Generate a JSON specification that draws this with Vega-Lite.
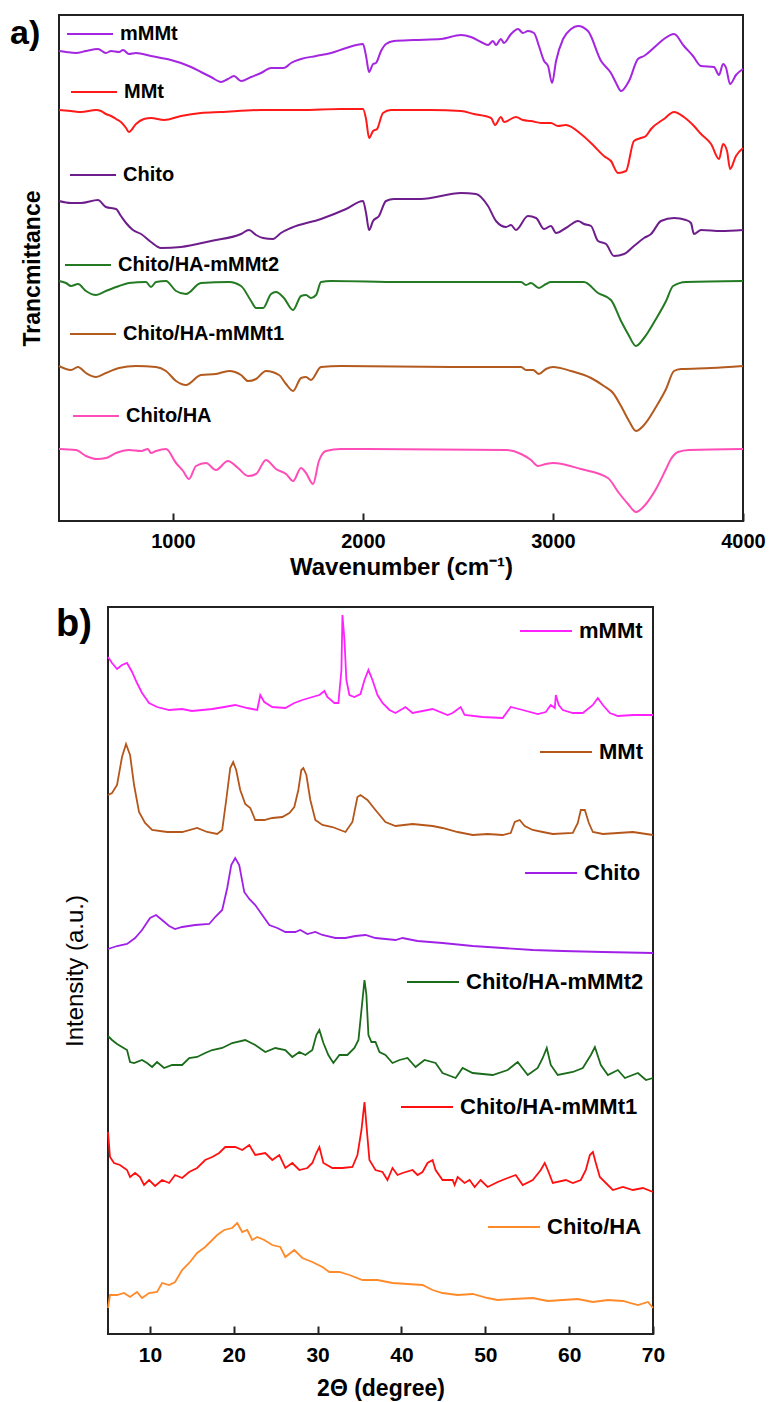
{
"$schema": "https://vega.github.io/schema/vega-lite/v6.json",
"padding": {"left": 9, "top": 9, "right": 2, "bottom": 0},
"spacing": 23,
"config": {
 "font": "Liberation Sans",
 "view": {"stroke": "#222", "strokeWidth": 2},
 "axis": {"grid": false, "labelFont": "Liberation Sans", "titleFont": "Liberation Sans", "labelColor": "black", "titleColor": "black", "tickColor": "#222"},
 "legend": {"symbolType": "stroke", "symbolStrokeWidth": 2, "labelFont": "Liberation Sans", "labelFontWeight": "bold", "labelColor": "black", "padding": 0, "labelOffset": 6, "labelLimit": 500}
},
"datasets": {
"ftir": [
{"s":"mMMt","x":400,"y":470},{"s":"mMMt","x":437,"y":469},{"s":"mMMt","x":489,"y":468},{"s":"mMMt","x":542,"y":470},{"s":"mMMt","x":605,"y":472},{"s":"mMMt","x":647,"y":468},{"s":"mMMt","x":674,"y":470},{"s":"mMMt","x":716,"y":469},{"s":"mMMt","x":737,"y":471},{"s":"mMMt","x":768,"y":467},{"s":"mMMt","x":805,"y":468},{"s":"mMMt","x":884,"y":465},{"s":"mMMt","x":937,"y":463},{"s":"mMMt","x":989,"y":461},{"s":"mMMt","x":1042,"y":458},{"s":"mMMt","x":1095,"y":454},{"s":"mMMt","x":1147,"y":449},{"s":"mMMt","x":1200,"y":444},{"s":"mMMt","x":1253,"y":439},{"s":"mMMt","x":1289,"y":442},{"s":"mMMt","x":1321,"y":445},{"s":"mMMt","x":1358,"y":440},{"s":"mMMt","x":1411,"y":444},{"s":"mMMt","x":1463,"y":448},{"s":"mMMt","x":1516,"y":453},{"s":"mMMt","x":1584,"y":453},{"s":"mMMt","x":1621,"y":458},{"s":"mMMt","x":1674,"y":462},{"s":"mMMt","x":1753,"y":465},{"s":"mMMt","x":1832,"y":468},{"s":"mMMt","x":1911,"y":473},{"s":"mMMt","x":2000,"y":477},{"s":"mMMt","x":2016,"y":465},{"s":"mMMt","x":2032,"y":449},{"s":"mMMt","x":2053,"y":457},{"s":"mMMt","x":2068,"y":458},{"s":"mMMt","x":2095,"y":470},{"s":"mMMt","x":2121,"y":477},{"s":"mMMt","x":2163,"y":480},{"s":"mMMt","x":2268,"y":481},{"s":"mMMt","x":2411,"y":482},{"s":"mMMt","x":2516,"y":486},{"s":"mMMt","x":2568,"y":484},{"s":"mMMt","x":2621,"y":479},{"s":"mMMt","x":2658,"y":476},{"s":"mMMt","x":2684,"y":480},{"s":"mMMt","x":2700,"y":476},{"s":"mMMt","x":2726,"y":482},{"s":"mMMt","x":2742,"y":478},{"s":"mMMt","x":2779,"y":487},{"s":"mMMt","x":2816,"y":492},{"s":"mMMt","x":2842,"y":488},{"s":"mMMt","x":2868,"y":490},{"s":"mMMt","x":2900,"y":488},{"s":"mMMt","x":2926,"y":475},{"s":"mMMt","x":2953,"y":460},{"s":"mMMt","x":2974,"y":455},{"s":"mMMt","x":2995,"y":438},{"s":"mMMt","x":3016,"y":460},{"s":"mMMt","x":3053,"y":482},{"s":"mMMt","x":3095,"y":492},{"s":"mMMt","x":3132,"y":495},{"s":"mMMt","x":3184,"y":490},{"s":"mMMt","x":3253,"y":460},{"s":"mMMt","x":3305,"y":448},{"s":"mMMt","x":3332,"y":438},{"s":"mMMt","x":3358,"y":430},{"s":"mMMt","x":3400,"y":440},{"s":"mMMt","x":3447,"y":462},{"s":"mMMt","x":3479,"y":465},{"s":"mMMt","x":3553,"y":477},{"s":"mMMt","x":3584,"y":482},{"s":"mMMt","x":3637,"y":487},{"s":"mMMt","x":3689,"y":475},{"s":"mMMt","x":3737,"y":465},{"s":"mMMt","x":3779,"y":455},{"s":"mMMt","x":3847,"y":454},{"s":"mMMt","x":3874,"y":446},{"s":"mMMt","x":3895,"y":457},{"s":"mMMt","x":3911,"y":453},{"s":"mMMt","x":3932,"y":437},{"s":"mMMt","x":3963,"y":446},{"s":"mMMt","x":4000,"y":452},
{"s":"MMt","x":400,"y":411},{"s":"MMt","x":463,"y":410},{"s":"MMt","x":516,"y":409},{"s":"MMt","x":595,"y":411},{"s":"MMt","x":621,"y":410},{"s":"MMt","x":647,"y":407},{"s":"MMt","x":674,"y":405},{"s":"MMt","x":700,"y":402},{"s":"MMt","x":726,"y":399},{"s":"MMt","x":753,"y":393},{"s":"MMt","x":768,"y":389},{"s":"MMt","x":805,"y":397},{"s":"MMt","x":847,"y":402},{"s":"MMt","x":884,"y":403},{"s":"MMt","x":953,"y":401},{"s":"MMt","x":1042,"y":405},{"s":"MMt","x":1147,"y":408},{"s":"MMt","x":1253,"y":409},{"s":"MMt","x":1463,"y":411},{"s":"MMt","x":1674,"y":411},{"s":"MMt","x":1884,"y":412},{"s":"MMt","x":2000,"y":412},{"s":"MMt","x":2016,"y":402},{"s":"MMt","x":2032,"y":383},{"s":"MMt","x":2053,"y":390},{"s":"MMt","x":2074,"y":392},{"s":"MMt","x":2105,"y":408},{"s":"MMt","x":2147,"y":411},{"s":"MMt","x":2358,"y":411},{"s":"MMt","x":2516,"y":410},{"s":"MMt","x":2584,"y":407},{"s":"MMt","x":2674,"y":403},{"s":"MMt","x":2695,"y":396},{"s":"MMt","x":2726,"y":404},{"s":"MMt","x":2742,"y":399},{"s":"MMt","x":2805,"y":404},{"s":"MMt","x":2842,"y":401},{"s":"MMt","x":2884,"y":400},{"s":"MMt","x":2937,"y":398},{"s":"MMt","x":2989,"y":398},{"s":"MMt","x":3026,"y":395},{"s":"MMt","x":3068,"y":396},{"s":"MMt","x":3147,"y":387},{"s":"MMt","x":3216,"y":375},{"s":"MMt","x":3268,"y":365},{"s":"MMt","x":3305,"y":360},{"s":"MMt","x":3342,"y":348},{"s":"MMt","x":3384,"y":350},{"s":"MMt","x":3426,"y":380},{"s":"MMt","x":3463,"y":383},{"s":"MMt","x":3489,"y":385},{"s":"MMt","x":3516,"y":392},{"s":"MMt","x":3584,"y":402},{"s":"MMt","x":3637,"y":409},{"s":"MMt","x":3689,"y":404},{"s":"MMt","x":3742,"y":395},{"s":"MMt","x":3779,"y":387},{"s":"MMt","x":3832,"y":377},{"s":"MMt","x":3874,"y":362},{"s":"MMt","x":3895,"y":377},{"s":"MMt","x":3916,"y":370},{"s":"MMt","x":3932,"y":352},{"s":"MMt","x":3963,"y":365},{"s":"MMt","x":4000,"y":373},
{"s":"Chito","x":400,"y":320},{"s":"Chito","x":463,"y":318},{"s":"Chito","x":516,"y":318},{"s":"Chito","x":605,"y":321},{"s":"Chito","x":647,"y":314},{"s":"Chito","x":700,"y":312},{"s":"Chito","x":726,"y":305},{"s":"Chito","x":753,"y":298},{"s":"Chito","x":789,"y":291},{"s":"Chito","x":832,"y":287},{"s":"Chito","x":884,"y":279},{"s":"Chito","x":937,"y":273},{"s":"Chito","x":1042,"y":274},{"s":"Chito","x":1200,"y":280},{"s":"Chito","x":1358,"y":287},{"s":"Chito","x":1400,"y":291},{"s":"Chito","x":1437,"y":286},{"s":"Chito","x":1474,"y":283},{"s":"Chito","x":1526,"y":282},{"s":"Chito","x":1568,"y":288},{"s":"Chito","x":1621,"y":293},{"s":"Chito","x":1779,"y":302},{"s":"Chito","x":1911,"y":312},{"s":"Chito","x":2000,"y":320},{"s":"Chito","x":2016,"y":308},{"s":"Chito","x":2032,"y":291},{"s":"Chito","x":2053,"y":300},{"s":"Chito","x":2084,"y":305},{"s":"Chito","x":2121,"y":320},{"s":"Chito","x":2163,"y":322},{"s":"Chito","x":2305,"y":322},{"s":"Chito","x":2516,"y":328},{"s":"Chito","x":2595,"y":327},{"s":"Chito","x":2658,"y":315},{"s":"Chito","x":2700,"y":300},{"s":"Chito","x":2753,"y":294},{"s":"Chito","x":2779,"y":296},{"s":"Chito","x":2805,"y":291},{"s":"Chito","x":2868,"y":305},{"s":"Chito","x":2911,"y":303},{"s":"Chito","x":2953,"y":292},{"s":"Chito","x":2989,"y":295},{"s":"Chito","x":3016,"y":288},{"s":"Chito","x":3068,"y":293},{"s":"Chito","x":3132,"y":300},{"s":"Chito","x":3163,"y":297},{"s":"Chito","x":3200,"y":295},{"s":"Chito","x":3237,"y":280},{"s":"Chito","x":3279,"y":277},{"s":"Chito","x":3321,"y":265},{"s":"Chito","x":3374,"y":267},{"s":"Chito","x":3426,"y":275},{"s":"Chito","x":3479,"y":283},{"s":"Chito","x":3516,"y":287},{"s":"Chito","x":3568,"y":300},{"s":"Chito","x":3637,"y":303},{"s":"Chito","x":3700,"y":301},{"s":"Chito","x":3726,"y":298},{"s":"Chito","x":3742,"y":287},{"s":"Chito","x":3779,"y":291},{"s":"Chito","x":3884,"y":290},{"s":"Chito","x":4000,"y":291},
{"s":"Chito/HA-mMMt2","x":400,"y":240},{"s":"Chito/HA-mMMt2","x":437,"y":238},{"s":"Chito/HA-mMMt2","x":463,"y":235},{"s":"Chito/HA-mMMt2","x":500,"y":237},{"s":"Chito/HA-mMMt2","x":542,"y":230},{"s":"Chito/HA-mMMt2","x":595,"y":226},{"s":"Chito/HA-mMMt2","x":647,"y":230},{"s":"Chito/HA-mMMt2","x":716,"y":235},{"s":"Chito/HA-mMMt2","x":768,"y":238},{"s":"Chito/HA-mMMt2","x":858,"y":239},{"s":"Chito/HA-mMMt2","x":884,"y":234},{"s":"Chito/HA-mMMt2","x":911,"y":239},{"s":"Chito/HA-mMMt2","x":963,"y":240},{"s":"Chito/HA-mMMt2","x":1016,"y":230},{"s":"Chito/HA-mMMt2","x":1068,"y":227},{"s":"Chito/HA-mMMt2","x":1147,"y":238},{"s":"Chito/HA-mMMt2","x":1295,"y":239},{"s":"Chito/HA-mMMt2","x":1358,"y":235},{"s":"Chito/HA-mMMt2","x":1411,"y":220},{"s":"Chito/HA-mMMt2","x":1437,"y":213},{"s":"Chito/HA-mMMt2","x":1474,"y":213},{"s":"Chito/HA-mMMt2","x":1516,"y":227},{"s":"Chito/HA-mMMt2","x":1542,"y":229},{"s":"Chito/HA-mMMt2","x":1584,"y":223},{"s":"Chito/HA-mMMt2","x":1632,"y":211},{"s":"Chito/HA-mMMt2","x":1674,"y":225},{"s":"Chito/HA-mMMt2","x":1700,"y":226},{"s":"Chito/HA-mMMt2","x":1726,"y":223},{"s":"Chito/HA-mMMt2","x":1753,"y":226},{"s":"Chito/HA-mMMt2","x":1779,"y":239},{"s":"Chito/HA-mMMt2","x":1832,"y":240},{"s":"Chito/HA-mMMt2","x":2200,"y":239},{"s":"Chito/HA-mMMt2","x":2832,"y":239},{"s":"Chito/HA-mMMt2","x":2858,"y":236},{"s":"Chito/HA-mMMt2","x":2884,"y":238},{"s":"Chito/HA-mMMt2","x":2926,"y":233},{"s":"Chito/HA-mMMt2","x":2963,"y":237},{"s":"Chito/HA-mMMt2","x":2989,"y":239},{"s":"Chito/HA-mMMt2","x":3163,"y":239},{"s":"Chito/HA-mMMt2","x":3237,"y":228},{"s":"Chito/HA-mMMt2","x":3305,"y":221},{"s":"Chito/HA-mMMt2","x":3358,"y":200},{"s":"Chito/HA-mMMt2","x":3395,"y":187},{"s":"Chito/HA-mMMt2","x":3437,"y":175},{"s":"Chito/HA-mMMt2","x":3479,"y":183},{"s":"Chito/HA-mMMt2","x":3542,"y":202},{"s":"Chito/HA-mMMt2","x":3595,"y":220},{"s":"Chito/HA-mMMt2","x":3632,"y":235},{"s":"Chito/HA-mMMt2","x":3700,"y":239},{"s":"Chito/HA-mMMt2","x":4000,"y":240},
{"s":"Chito/HA-mMMt1","x":400,"y":155},{"s":"Chito/HA-mMMt1","x":463,"y":151},{"s":"Chito/HA-mMMt1","x":500,"y":154},{"s":"Chito/HA-mMMt1","x":542,"y":148},{"s":"Chito/HA-mMMt1","x":595,"y":144},{"s":"Chito/HA-mMMt1","x":647,"y":148},{"s":"Chito/HA-mMMt1","x":716,"y":153},{"s":"Chito/HA-mMMt1","x":805,"y":155},{"s":"Chito/HA-mMMt1","x":911,"y":154},{"s":"Chito/HA-mMMt1","x":963,"y":150},{"s":"Chito/HA-mMMt1","x":1016,"y":140},{"s":"Chito/HA-mMMt1","x":1068,"y":136},{"s":"Chito/HA-mMMt1","x":1147,"y":146},{"s":"Chito/HA-mMMt1","x":1226,"y":147},{"s":"Chito/HA-mMMt1","x":1295,"y":150},{"s":"Chito/HA-mMMt1","x":1358,"y":146},{"s":"Chito/HA-mMMt1","x":1395,"y":140},{"s":"Chito/HA-mMMt1","x":1437,"y":142},{"s":"Chito/HA-mMMt1","x":1489,"y":150},{"s":"Chito/HA-mMMt1","x":1558,"y":146},{"s":"Chito/HA-mMMt1","x":1595,"y":137},{"s":"Chito/HA-mMMt1","x":1632,"y":130},{"s":"Chito/HA-mMMt1","x":1674,"y":143},{"s":"Chito/HA-mMMt1","x":1700,"y":144},{"s":"Chito/HA-mMMt1","x":1726,"y":141},{"s":"Chito/HA-mMMt1","x":1779,"y":154},{"s":"Chito/HA-mMMt1","x":1884,"y":155},{"s":"Chito/HA-mMMt1","x":2463,"y":154},{"s":"Chito/HA-mMMt1","x":2832,"y":154},{"s":"Chito/HA-mMMt1","x":2858,"y":151},{"s":"Chito/HA-mMMt1","x":2895,"y":151},{"s":"Chito/HA-mMMt1","x":2926,"y":147},{"s":"Chito/HA-mMMt1","x":2963,"y":152},{"s":"Chito/HA-mMMt1","x":3000,"y":154},{"s":"Chito/HA-mMMt1","x":3095,"y":150},{"s":"Chito/HA-mMMt1","x":3200,"y":143},{"s":"Chito/HA-mMMt1","x":3268,"y":135},{"s":"Chito/HA-mMMt1","x":3316,"y":128},{"s":"Chito/HA-mMMt1","x":3358,"y":115},{"s":"Chito/HA-mMMt1","x":3400,"y":100},{"s":"Chito/HA-mMMt1","x":3437,"y":90},{"s":"Chito/HA-mMMt1","x":3479,"y":96},{"s":"Chito/HA-mMMt1","x":3542,"y":114},{"s":"Chito/HA-mMMt1","x":3595,"y":132},{"s":"Chito/HA-mMMt1","x":3637,"y":150},{"s":"Chito/HA-mMMt1","x":3674,"y":152},{"s":"Chito/HA-mMMt1","x":3832,"y":153},{"s":"Chito/HA-mMMt1","x":4000,"y":155},
{"s":"Chito/HA","x":400,"y":72},{"s":"Chito/HA","x":489,"y":71},{"s":"Chito/HA","x":542,"y":65},{"s":"Chito/HA","x":600,"y":62},{"s":"Chito/HA","x":647,"y":63},{"s":"Chito/HA","x":700,"y":68},{"s":"Chito/HA","x":768,"y":71},{"s":"Chito/HA","x":832,"y":70},{"s":"Chito/HA","x":868,"y":72},{"s":"Chito/HA","x":884,"y":68},{"s":"Chito/HA","x":911,"y":70},{"s":"Chito/HA","x":963,"y":72},{"s":"Chito/HA","x":1016,"y":58},{"s":"Chito/HA","x":1053,"y":50},{"s":"Chito/HA","x":1084,"y":42},{"s":"Chito/HA","x":1121,"y":55},{"s":"Chito/HA","x":1174,"y":58},{"s":"Chito/HA","x":1226,"y":51},{"s":"Chito/HA","x":1289,"y":60},{"s":"Chito/HA","x":1342,"y":53},{"s":"Chito/HA","x":1395,"y":45},{"s":"Chito/HA","x":1437,"y":47},{"s":"Chito/HA","x":1489,"y":61},{"s":"Chito/HA","x":1542,"y":52},{"s":"Chito/HA","x":1595,"y":47},{"s":"Chito/HA","x":1632,"y":40},{"s":"Chito/HA","x":1674,"y":53},{"s":"Chito/HA","x":1700,"y":48},{"s":"Chito/HA","x":1737,"y":37},{"s":"Chito/HA","x":1768,"y":60},{"s":"Chito/HA","x":1805,"y":70},{"s":"Chito/HA","x":1884,"y":72},{"s":"Chito/HA","x":2753,"y":71},{"s":"Chito/HA","x":2832,"y":67},{"s":"Chito/HA","x":2884,"y":61},{"s":"Chito/HA","x":2921,"y":55},{"s":"Chito/HA","x":2963,"y":57},{"s":"Chito/HA","x":3000,"y":58},{"s":"Chito/HA","x":3147,"y":52},{"s":"Chito/HA","x":3289,"y":43},{"s":"Chito/HA","x":3347,"y":28},{"s":"Chito/HA","x":3395,"y":17},{"s":"Chito/HA","x":3437,"y":9},{"s":"Chito/HA","x":3489,"y":17},{"s":"Chito/HA","x":3542,"y":32},{"s":"Chito/HA","x":3595,"y":52},{"s":"Chito/HA","x":3621,"y":62},{"s":"Chito/HA","x":3658,"y":69},{"s":"Chito/HA","x":3716,"y":71},{"s":"Chito/HA","x":4000,"y":72}
],
"xrd": [
{"s":"mMMt","x":5.0,"y":677},{"s":"mMMt","x":5.48,"y":671},{"s":"mMMt","x":6.08,"y":665},{"s":"mMMt","x":6.67,"y":669},{"s":"mMMt","x":7.27,"y":671},{"s":"mMMt","x":7.87,"y":662},{"s":"mMMt","x":8.46,"y":651},{"s":"mMMt","x":9.06,"y":641},{"s":"mMMt","x":9.9,"y":631},{"s":"mMMt","x":10.85,"y":627},{"s":"mMMt","x":12.29,"y":624},{"s":"mMMt","x":13.84,"y":625},{"s":"mMMt","x":15.0,"y":623},{"s":"mMMt","x":16.23,"y":624},{"s":"mMMt","x":17.43,"y":625},{"s":"mMMt","x":18.86,"y":627},{"s":"mMMt","x":20.17,"y":629},{"s":"mMMt","x":21.61,"y":626},{"s":"mMMt","x":22.8,"y":624},{"s":"mMMt","x":23.16,"y":639},{"s":"mMMt","x":23.64,"y":632},{"s":"mMMt","x":24.59,"y":627},{"s":"mMMt","x":26.15,"y":626},{"s":"mMMt","x":27.22,"y":631},{"s":"mMMt","x":28.18,"y":634},{"s":"mMMt","x":29.37,"y":637},{"s":"mMMt","x":30.21,"y":639},{"s":"mMMt","x":30.81,"y":643},{"s":"mMMt","x":31.16,"y":637},{"s":"mMMt","x":32.0,"y":631},{"s":"mMMt","x":32.48,"y":631},{"s":"mMMt","x":32.84,"y":664},{"s":"mMMt","x":32.96,"y":719},{"s":"mMMt","x":33.2,"y":694},{"s":"mMMt","x":33.43,"y":654},{"s":"mMMt","x":33.79,"y":639},{"s":"mMMt","x":34.39,"y":637},{"s":"mMMt","x":35.11,"y":640},{"s":"mMMt","x":35.59,"y":654},{"s":"mMMt","x":36.06,"y":664},{"s":"mMMt","x":36.54,"y":654},{"s":"mMMt","x":37.14,"y":639},{"s":"mMMt","x":37.74,"y":631},{"s":"mMMt","x":38.57,"y":624},{"s":"mMMt","x":39.29,"y":621},{"s":"mMMt","x":40.48,"y":627},{"s":"mMMt","x":41.32,"y":621},{"s":"mMMt","x":43.71,"y":625},{"s":"mMMt","x":45.5,"y":619},{"s":"mMMt","x":46.1,"y":621},{"s":"mMMt","x":47.06,"y":627},{"s":"mMMt","x":47.53,"y":619},{"s":"mMMt","x":49.68,"y":617},{"s":"mMMt","x":52.07,"y":616},{"s":"mMMt","x":53.03,"y":627},{"s":"mMMt","x":54.46,"y":624},{"s":"mMMt","x":56.25,"y":620},{"s":"mMMt","x":57.21,"y":622},{"s":"mMMt","x":57.81,"y":629},{"s":"mMMt","x":58.29,"y":626},{"s":"mMMt","x":58.41,"y":639},{"s":"mMMt","x":58.76,"y":629},{"s":"mMMt","x":59.24,"y":624},{"s":"mMMt","x":60.44,"y":621},{"s":"mMMt","x":61.63,"y":621},{"s":"mMMt","x":62.83,"y":629},{"s":"mMMt","x":63.42,"y":636},{"s":"mMMt","x":64.02,"y":629},{"s":"mMMt","x":64.86,"y":621},{"s":"mMMt","x":65.81,"y":618},{"s":"mMMt","x":67.6,"y":619},{"s":"mMMt","x":70.0,"y":619},
{"s":"MMt","x":5.0,"y":539},{"s":"MMt","x":5.48,"y":541},{"s":"MMt","x":6.08,"y":549},{"s":"MMt","x":6.67,"y":577},{"s":"MMt","x":7.15,"y":590},{"s":"MMt","x":7.63,"y":579},{"s":"MMt","x":8.11,"y":549},{"s":"MMt","x":8.7,"y":522},{"s":"MMt","x":9.42,"y":511},{"s":"MMt","x":10.26,"y":504},{"s":"MMt","x":12.05,"y":502},{"s":"MMt","x":13.84,"y":502},{"s":"MMt","x":15.63,"y":506},{"s":"MMt","x":16.83,"y":502},{"s":"MMt","x":18.02,"y":500},{"s":"MMt","x":18.62,"y":504},{"s":"MMt","x":19.1,"y":534},{"s":"MMt","x":19.58,"y":566},{"s":"MMt","x":19.93,"y":572},{"s":"MMt","x":20.29,"y":564},{"s":"MMt","x":20.77,"y":544},{"s":"MMt","x":21.37,"y":530},{"s":"MMt","x":21.97,"y":526},{"s":"MMt","x":22.56,"y":514},{"s":"MMt","x":23.64,"y":514},{"s":"MMt","x":24.59,"y":516},{"s":"MMt","x":25.79,"y":517},{"s":"MMt","x":26.63,"y":521},{"s":"MMt","x":27.22,"y":527},{"s":"MMt","x":27.7,"y":544},{"s":"MMt","x":28.06,"y":564},{"s":"MMt","x":28.3,"y":566},{"s":"MMt","x":28.66,"y":559},{"s":"MMt","x":29.13,"y":534},{"s":"MMt","x":29.73,"y":514},{"s":"MMt","x":30.57,"y":509},{"s":"MMt","x":31.76,"y":507},{"s":"MMt","x":33.32,"y":502},{"s":"MMt","x":34.15,"y":512},{"s":"MMt","x":34.75,"y":537},{"s":"MMt","x":35.11,"y":539},{"s":"MMt","x":35.94,"y":534},{"s":"MMt","x":36.9,"y":524},{"s":"MMt","x":38.09,"y":512},{"s":"MMt","x":39.29,"y":508},{"s":"MMt","x":41.32,"y":510},{"s":"MMt","x":43.71,"y":508},{"s":"MMt","x":44.9,"y":506},{"s":"MMt","x":46.7,"y":502},{"s":"MMt","x":48.49,"y":499},{"s":"MMt","x":50.28,"y":500},{"s":"MMt","x":52.07,"y":499},{"s":"MMt","x":53.03,"y":501},{"s":"MMt","x":53.51,"y":512},{"s":"MMt","x":54.1,"y":514},{"s":"MMt","x":54.7,"y":508},{"s":"MMt","x":55.66,"y":504},{"s":"MMt","x":56.85,"y":502},{"s":"MMt","x":58.05,"y":500},{"s":"MMt","x":60.44,"y":501},{"s":"MMt","x":61.03,"y":511},{"s":"MMt","x":61.39,"y":524},{"s":"MMt","x":61.87,"y":524},{"s":"MMt","x":62.35,"y":511},{"s":"MMt","x":62.83,"y":502},{"s":"MMt","x":64.02,"y":500},{"s":"MMt","x":67.6,"y":502},{"s":"MMt","x":70.0,"y":499},
{"s":"Chito","x":5.0,"y":385},{"s":"Chito","x":6.08,"y":388},{"s":"Chito","x":7.27,"y":390},{"s":"Chito","x":8.23,"y":396},{"s":"Chito","x":9.06,"y":404},{"s":"Chito","x":10.02,"y":416},{"s":"Chito","x":10.73,"y":419},{"s":"Chito","x":11.45,"y":414},{"s":"Chito","x":12.29,"y":408},{"s":"Chito","x":13.0,"y":405},{"s":"Chito","x":13.84,"y":407},{"s":"Chito","x":15.39,"y":409},{"s":"Chito","x":17.07,"y":410},{"s":"Chito","x":17.78,"y":417},{"s":"Chito","x":18.62,"y":424},{"s":"Chito","x":19.22,"y":446},{"s":"Chito","x":19.7,"y":469},{"s":"Chito","x":20.17,"y":476},{"s":"Chito","x":20.65,"y":469},{"s":"Chito","x":21.25,"y":442},{"s":"Chito","x":21.85,"y":435},{"s":"Chito","x":22.56,"y":429},{"s":"Chito","x":23.4,"y":419},{"s":"Chito","x":24.24,"y":409},{"s":"Chito","x":25.19,"y":406},{"s":"Chito","x":26.15,"y":402},{"s":"Chito","x":27.34,"y":402},{"s":"Chito","x":27.94,"y":404},{"s":"Chito","x":28.78,"y":400},{"s":"Chito","x":29.73,"y":402},{"s":"Chito","x":30.57,"y":399},{"s":"Chito","x":32.12,"y":396},{"s":"Chito","x":33.32,"y":396},{"s":"Chito","x":34.51,"y":398},{"s":"Chito","x":35.71,"y":399},{"s":"Chito","x":36.9,"y":396},{"s":"Chito","x":39.29,"y":394},{"s":"Chito","x":40.13,"y":396},{"s":"Chito","x":41.92,"y":393},{"s":"Chito","x":44.9,"y":391},{"s":"Chito","x":48.49,"y":388},{"s":"Chito","x":52.07,"y":386},{"s":"Chito","x":55.66,"y":384},{"s":"Chito","x":59.24,"y":383},{"s":"Chito","x":64.02,"y":382},{"s":"Chito","x":70.0,"y":381},
{"s":"Chito/HA-mMMt2","x":5.0,"y":298},{"s":"Chito/HA-mMMt2","x":5.48,"y":294},{"s":"Chito/HA-mMMt2","x":6.08,"y":290},{"s":"Chito/HA-mMMt2","x":6.67,"y":287},{"s":"Chito/HA-mMMt2","x":7.27,"y":284},{"s":"Chito/HA-mMMt2","x":7.63,"y":272},{"s":"Chito/HA-mMMt2","x":8.11,"y":271},{"s":"Chito/HA-mMMt2","x":9.06,"y":274},{"s":"Chito/HA-mMMt2","x":9.66,"y":271},{"s":"Chito/HA-mMMt2","x":10.26,"y":267},{"s":"Chito/HA-mMMt2","x":10.85,"y":272},{"s":"Chito/HA-mMMt2","x":11.69,"y":266},{"s":"Chito/HA-mMMt2","x":12.65,"y":269},{"s":"Chito/HA-mMMt2","x":13.84,"y":269},{"s":"Chito/HA-mMMt2","x":14.68,"y":276},{"s":"Chito/HA-mMMt2","x":15.63,"y":277},{"s":"Chito/HA-mMMt2","x":16.59,"y":281},{"s":"Chito/HA-mMMt2","x":17.43,"y":284},{"s":"Chito/HA-mMMt2","x":18.62,"y":286},{"s":"Chito/HA-mMMt2","x":19.81,"y":291},{"s":"Chito/HA-mMMt2","x":21.37,"y":294},{"s":"Chito/HA-mMMt2","x":22.56,"y":289},{"s":"Chito/HA-mMMt2","x":23.76,"y":282},{"s":"Chito/HA-mMMt2","x":24.95,"y":286},{"s":"Chito/HA-mMMt2","x":26.15,"y":284},{"s":"Chito/HA-mMMt2","x":26.98,"y":277},{"s":"Chito/HA-mMMt2","x":27.82,"y":282},{"s":"Chito/HA-mMMt2","x":28.54,"y":279},{"s":"Chito/HA-mMMt2","x":29.37,"y":284},{"s":"Chito/HA-mMMt2","x":29.85,"y":299},{"s":"Chito/HA-mMMt2","x":30.21,"y":304},{"s":"Chito/HA-mMMt2","x":30.69,"y":291},{"s":"Chito/HA-mMMt2","x":31.28,"y":279},{"s":"Chito/HA-mMMt2","x":31.88,"y":271},{"s":"Chito/HA-mMMt2","x":32.6,"y":279},{"s":"Chito/HA-mMMt2","x":33.55,"y":279},{"s":"Chito/HA-mMMt2","x":34.39,"y":286},{"s":"Chito/HA-mMMt2","x":34.87,"y":294},{"s":"Chito/HA-mMMt2","x":35.23,"y":324},{"s":"Chito/HA-mMMt2","x":35.59,"y":354},{"s":"Chito/HA-mMMt2","x":35.82,"y":339},{"s":"Chito/HA-mMMt2","x":36.06,"y":299},{"s":"Chito/HA-mMMt2","x":36.42,"y":292},{"s":"Chito/HA-mMMt2","x":36.9,"y":292},{"s":"Chito/HA-mMMt2","x":37.38,"y":282},{"s":"Chito/HA-mMMt2","x":38.09,"y":279},{"s":"Chito/HA-mMMt2","x":38.93,"y":271},{"s":"Chito/HA-mMMt2","x":39.77,"y":274},{"s":"Chito/HA-mMMt2","x":40.72,"y":276},{"s":"Chito/HA-mMMt2","x":41.68,"y":267},{"s":"Chito/HA-mMMt2","x":42.75,"y":274},{"s":"Chito/HA-mMMt2","x":44.07,"y":271},{"s":"Chito/HA-mMMt2","x":44.9,"y":261},{"s":"Chito/HA-mMMt2","x":46.46,"y":256},{"s":"Chito/HA-mMMt2","x":47.29,"y":266},{"s":"Chito/HA-mMMt2","x":48.49,"y":261},{"s":"Chito/HA-mMMt2","x":50.88,"y":259},{"s":"Chito/HA-mMMt2","x":52.67,"y":264},{"s":"Chito/HA-mMMt2","x":53.86,"y":272},{"s":"Chito/HA-mMMt2","x":55.06,"y":259},{"s":"Chito/HA-mMMt2","x":56.25,"y":266},{"s":"Chito/HA-mMMt2","x":56.85,"y":276},{"s":"Chito/HA-mMMt2","x":57.33,"y":286},{"s":"Chito/HA-mMMt2","x":57.81,"y":269},{"s":"Chito/HA-mMMt2","x":58.64,"y":259},{"s":"Chito/HA-mMMt2","x":60.44,"y":262},{"s":"Chito/HA-mMMt2","x":61.63,"y":266},{"s":"Chito/HA-mMMt2","x":62.59,"y":279},{"s":"Chito/HA-mMMt2","x":63.07,"y":287},{"s":"Chito/HA-mMMt2","x":63.78,"y":269},{"s":"Chito/HA-mMMt2","x":64.62,"y":259},{"s":"Chito/HA-mMMt2","x":65.81,"y":264},{"s":"Chito/HA-mMMt2","x":66.65,"y":256},{"s":"Chito/HA-mMMt2","x":68.2,"y":261},{"s":"Chito/HA-mMMt2","x":69.16,"y":254},{"s":"Chito/HA-mMMt2","x":70.0,"y":256},
{"s":"Chito/HA-mMMt1","x":5.0,"y":202},{"s":"Chito/HA-mMMt1","x":5.24,"y":177},{"s":"Chito/HA-mMMt1","x":5.72,"y":171},{"s":"Chito/HA-mMMt1","x":6.43,"y":169},{"s":"Chito/HA-mMMt1","x":7.27,"y":164},{"s":"Chito/HA-mMMt1","x":7.63,"y":157},{"s":"Chito/HA-mMMt1","x":8.23,"y":161},{"s":"Chito/HA-mMMt1","x":8.82,"y":157},{"s":"Chito/HA-mMMt1","x":9.3,"y":149},{"s":"Chito/HA-mMMt1","x":9.9,"y":154},{"s":"Chito/HA-mMMt1","x":10.62,"y":148},{"s":"Chito/HA-mMMt1","x":11.45,"y":154},{"s":"Chito/HA-mMMt1","x":12.29,"y":151},{"s":"Chito/HA-mMMt1","x":13.0,"y":159},{"s":"Chito/HA-mMMt1","x":13.84,"y":156},{"s":"Chito/HA-mMMt1","x":14.68,"y":162},{"s":"Chito/HA-mMMt1","x":15.63,"y":166},{"s":"Chito/HA-mMMt1","x":16.59,"y":174},{"s":"Chito/HA-mMMt1","x":17.43,"y":177},{"s":"Chito/HA-mMMt1","x":18.26,"y":181},{"s":"Chito/HA-mMMt1","x":18.98,"y":187},{"s":"Chito/HA-mMMt1","x":20.17,"y":187},{"s":"Chito/HA-mMMt1","x":21.01,"y":184},{"s":"Chito/HA-mMMt1","x":21.85,"y":189},{"s":"Chito/HA-mMMt1","x":22.56,"y":179},{"s":"Chito/HA-mMMt1","x":23.76,"y":181},{"s":"Chito/HA-mMMt1","x":24.59,"y":174},{"s":"Chito/HA-mMMt1","x":25.43,"y":179},{"s":"Chito/HA-mMMt1","x":26.15,"y":166},{"s":"Chito/HA-mMMt1","x":26.98,"y":171},{"s":"Chito/HA-mMMt1","x":27.82,"y":164},{"s":"Chito/HA-mMMt1","x":28.78,"y":166},{"s":"Chito/HA-mMMt1","x":29.37,"y":171},{"s":"Chito/HA-mMMt1","x":29.85,"y":181},{"s":"Chito/HA-mMMt1","x":30.21,"y":187},{"s":"Chito/HA-mMMt1","x":30.69,"y":171},{"s":"Chito/HA-mMMt1","x":31.76,"y":166},{"s":"Chito/HA-mMMt1","x":32.96,"y":166},{"s":"Chito/HA-mMMt1","x":34.15,"y":167},{"s":"Chito/HA-mMMt1","x":34.75,"y":179},{"s":"Chito/HA-mMMt1","x":35.23,"y":204},{"s":"Chito/HA-mMMt1","x":35.59,"y":232},{"s":"Chito/HA-mMMt1","x":35.82,"y":209},{"s":"Chito/HA-mMMt1","x":36.18,"y":174},{"s":"Chito/HA-mMMt1","x":36.9,"y":164},{"s":"Chito/HA-mMMt1","x":37.74,"y":162},{"s":"Chito/HA-mMMt1","x":38.33,"y":154},{"s":"Chito/HA-mMMt1","x":38.93,"y":166},{"s":"Chito/HA-mMMt1","x":39.53,"y":159},{"s":"Chito/HA-mMMt1","x":40.13,"y":161},{"s":"Chito/HA-mMMt1","x":41.32,"y":164},{"s":"Chito/HA-mMMt1","x":41.92,"y":159},{"s":"Chito/HA-mMMt1","x":42.51,"y":162},{"s":"Chito/HA-mMMt1","x":43.11,"y":171},{"s":"Chito/HA-mMMt1","x":43.71,"y":174},{"s":"Chito/HA-mMMt1","x":44.07,"y":164},{"s":"Chito/HA-mMMt1","x":44.9,"y":154},{"s":"Chito/HA-mMMt1","x":46.1,"y":154},{"s":"Chito/HA-mMMt1","x":46.34,"y":149},{"s":"Chito/HA-mMMt1","x":46.7,"y":157},{"s":"Chito/HA-mMMt1","x":47.53,"y":151},{"s":"Chito/HA-mMMt1","x":48.13,"y":154},{"s":"Chito/HA-mMMt1","x":48.73,"y":147},{"s":"Chito/HA-mMMt1","x":49.44,"y":154},{"s":"Chito/HA-mMMt1","x":50.28,"y":147},{"s":"Chito/HA-mMMt1","x":51.48,"y":152},{"s":"Chito/HA-mMMt1","x":52.67,"y":156},{"s":"Chito/HA-mMMt1","x":53.63,"y":159},{"s":"Chito/HA-mMMt1","x":54.46,"y":149},{"s":"Chito/HA-mMMt1","x":55.66,"y":154},{"s":"Chito/HA-mMMt1","x":56.61,"y":164},{"s":"Chito/HA-mMMt1","x":57.09,"y":171},{"s":"Chito/HA-mMMt1","x":57.45,"y":164},{"s":"Chito/HA-mMMt1","x":58.05,"y":151},{"s":"Chito/HA-mMMt1","x":59.6,"y":154},{"s":"Chito/HA-mMMt1","x":60.44,"y":151},{"s":"Chito/HA-mMMt1","x":61.39,"y":154},{"s":"Chito/HA-mMMt1","x":61.99,"y":164},{"s":"Chito/HA-mMMt1","x":62.47,"y":179},{"s":"Chito/HA-mMMt1","x":62.83,"y":182},{"s":"Chito/HA-mMMt1","x":63.18,"y":171},{"s":"Chito/HA-mMMt1","x":63.66,"y":157},{"s":"Chito/HA-mMMt1","x":64.38,"y":151},{"s":"Chito/HA-mMMt1","x":65.21,"y":144},{"s":"Chito/HA-mMMt1","x":66.41,"y":147},{"s":"Chito/HA-mMMt1","x":67.6,"y":144},{"s":"Chito/HA-mMMt1","x":68.8,"y":146},{"s":"Chito/HA-mMMt1","x":70.0,"y":142},
{"s":"Chito/HA","x":5.0,"y":26},{"s":"Chito/HA","x":5.24,"y":39},{"s":"Chito/HA","x":6.08,"y":39},{"s":"Chito/HA","x":6.91,"y":41},{"s":"Chito/HA","x":7.63,"y":37},{"s":"Chito/HA","x":8.46,"y":42},{"s":"Chito/HA","x":9.06,"y":36},{"s":"Chito/HA","x":9.9,"y":41},{"s":"Chito/HA","x":10.85,"y":42},{"s":"Chito/HA","x":11.45,"y":51},{"s":"Chito/HA","x":12.29,"y":49},{"s":"Chito/HA","x":13.0,"y":52},{"s":"Chito/HA","x":13.84,"y":64},{"s":"Chito/HA","x":14.68,"y":71},{"s":"Chito/HA","x":15.63,"y":81},{"s":"Chito/HA","x":16.59,"y":87},{"s":"Chito/HA","x":17.43,"y":94},{"s":"Chito/HA","x":18.02,"y":99},{"s":"Chito/HA","x":18.86,"y":104},{"s":"Chito/HA","x":19.81,"y":106},{"s":"Chito/HA","x":20.41,"y":111},{"s":"Chito/HA","x":21.01,"y":102},{"s":"Chito/HA","x":21.61,"y":104},{"s":"Chito/HA","x":22.2,"y":94},{"s":"Chito/HA","x":22.8,"y":97},{"s":"Chito/HA","x":23.64,"y":94},{"s":"Chito/HA","x":24.59,"y":89},{"s":"Chito/HA","x":25.55,"y":87},{"s":"Chito/HA","x":26.15,"y":77},{"s":"Chito/HA","x":27.22,"y":84},{"s":"Chito/HA","x":28.18,"y":76},{"s":"Chito/HA","x":29.37,"y":72},{"s":"Chito/HA","x":30.57,"y":67},{"s":"Chito/HA","x":31.4,"y":62},{"s":"Chito/HA","x":32.6,"y":62},{"s":"Chito/HA","x":33.79,"y":59},{"s":"Chito/HA","x":35.35,"y":54},{"s":"Chito/HA","x":37.14,"y":54},{"s":"Chito/HA","x":38.93,"y":51},{"s":"Chito/HA","x":40.72,"y":50},{"s":"Chito/HA","x":42.51,"y":49},{"s":"Chito/HA","x":43.71,"y":44},{"s":"Chito/HA","x":44.9,"y":41},{"s":"Chito/HA","x":46.7,"y":39},{"s":"Chito/HA","x":48.49,"y":40},{"s":"Chito/HA","x":50.28,"y":36},{"s":"Chito/HA","x":51.48,"y":34},{"s":"Chito/HA","x":53.27,"y":35},{"s":"Chito/HA","x":55.66,"y":36},{"s":"Chito/HA","x":57.45,"y":33},{"s":"Chito/HA","x":59.24,"y":34},{"s":"Chito/HA","x":61.03,"y":35},{"s":"Chito/HA","x":62.83,"y":32},{"s":"Chito/HA","x":64.62,"y":34},{"s":"Chito/HA","x":66.41,"y":33},{"s":"Chito/HA","x":68.2,"y":29},{"s":"Chito/HA","x":69.4,"y":32},{"s":"Chito/HA","x":70.0,"y":26}
]
},
"vconcat": [
{
 "width": 684, "height": 506,
 "title": {"text": "a)", "anchor": "start", "frame": "group", "orient": "top", "fontSize": 34, "fontWeight": "bold", "color": "black", "offset": 0, "baseline": "top", "dx": -49, "dy": 41},
 "data": {"name": "ftir"},
 "encoding": {
  "x": {"field": "x", "type": "quantitative", "scale": {"domain": [400, 4000], "nice": false, "zero": false},
   "axis": {"title": "Wavenumber (cm⁻¹)", "values": [1000, 2000, 3000, 4000], "format": "d", "labelFlush": false, "tickSize": -8, "tickWidth": 2, "domain": false, "labelFontSize": 20, "labelFontWeight": "bold", "labelPadding": 18, "titleFontSize": 24, "titleFontWeight": "bold", "titlePadding": 4}},
  "y": {"field": "y", "type": "quantitative", "scale": {"domain": [0, 506], "nice": false, "zero": false},
   "axis": {"title": "Trancmittance", "labels": false, "ticks": false, "domain": false, "titleFontSize": 23, "titleFontWeight": "bold", "titlePadding": 15}}
 },
 "layer": [
  {"transform": [{"filter": {"field": "s", "equal": "mMMt"}}], "mark": {"type": "line", "strokeWidth": 2, "interpolate": "monotone"},
   "encoding": {"color": {"field": "s", "type": "nominal", "scale": {"domain": ["mMMt"], "range": ["#A526E0"]}, "legend": {"title": null, "orient": "none", "legendX": 7, "legendY": -5, "symbolSize": 2116, "labelFontSize": 20}}}},
  {"transform": [{"filter": {"field": "s", "equal": "MMt"}}], "mark": {"type": "line", "strokeWidth": 2, "interpolate": "monotone"},
   "encoding": {"color": {"field": "s", "type": "nominal", "scale": {"domain": ["MMt"], "range": ["#FF1A1A"]}, "legend": {"title": null, "orient": "none", "legendX": 11, "legendY": 53, "symbolSize": 2116, "labelFontSize": 20}}}},
  {"transform": [{"filter": {"field": "s", "equal": "Chito"}}], "mark": {"type": "line", "strokeWidth": 2, "interpolate": "monotone"},
   "encoding": {"color": {"field": "s", "type": "nominal", "scale": {"domain": ["Chito"], "range": ["#6E1E8C"]}, "legend": {"title": null, "orient": "none", "legendX": 10, "legendY": 136, "symbolSize": 2116, "labelFontSize": 20}}}},
  {"transform": [{"filter": {"field": "s", "equal": "Chito/HA-mMMt2"}}], "mark": {"type": "line", "strokeWidth": 2, "interpolate": "monotone"},
   "encoding": {"color": {"field": "s", "type": "nominal", "scale": {"domain": ["Chito/HA-mMMt2"], "range": ["#237A23"]}, "legend": {"title": null, "orient": "none", "legendX": 5, "legendY": 226, "symbolSize": 2116, "labelFontSize": 20}}}},
  {"transform": [{"filter": {"field": "s", "equal": "Chito/HA-mMMt1"}}], "mark": {"type": "line", "strokeWidth": 2, "interpolate": "monotone"},
   "encoding": {"color": {"field": "s", "type": "nominal", "scale": {"domain": ["Chito/HA-mMMt1"], "range": ["#B35A1F"]}, "legend": {"title": null, "orient": "none", "legendX": 10, "legendY": 295, "symbolSize": 2116, "labelFontSize": 20}}}},
  {"transform": [{"filter": {"field": "s", "equal": "Chito/HA"}}], "mark": {"type": "line", "strokeWidth": 2, "interpolate": "monotone"},
   "encoding": {"color": {"field": "s", "type": "nominal", "scale": {"domain": ["Chito/HA"], "range": ["#FF4DB8"]}, "legend": {"title": null, "orient": "none", "legendX": 13, "legendY": 377, "symbolSize": 2116, "labelFontSize": 20}}}}
 ],
 "resolve": {"scale": {"color": "independent"}, "legend": {"color": "independent"}}
},
{
 "spacing": -5,
 "hconcat": [
 {"width": 1, "height": 1, "data": {"values": []}, "mark": "point", "view": {"stroke": null}},
 {
  "width": 545, "height": 727,
  "title": {"text": "b)", "anchor": "start", "frame": "group", "orient": "top", "fontSize": 38, "fontWeight": "bold", "color": "black", "offset": 0, "baseline": "top", "dx": -52, "dy": 40},
  "data": {"name": "xrd"},
  "encoding": {
   "x": {"field": "x", "type": "quantitative", "scale": {"domain": [5, 70], "nice": false, "zero": false},
    "axis": {"title": "2Θ (degree)", "values": [10, 20, 30, 40, 50, 60, 70], "labelFlush": false, "tickSize": -8, "tickWidth": 2, "domain": false, "labelFontSize": 21, "labelFontWeight": "bold", "labelPadding": 18, "titleFontSize": 23, "titleFontWeight": "bold", "titlePadding": 12}},
   "y": {"field": "y", "type": "quantitative", "scale": {"domain": [0, 727], "nice": false, "zero": false},
    "axis": {"title": "Intensity (a.u.)", "labels": false, "ticks": false, "domain": false, "titleFontSize": 24, "titleFontWeight": "normal", "titlePadding": 21}}
  },
  "layer": [
   {"transform": [{"filter": {"field": "s", "equal": "mMMt"}}], "mark": {"type": "line", "strokeWidth": 1.8},
    "encoding": {"color": {"field": "s", "type": "nominal", "scale": {"domain": ["mMMt"], "range": ["#FF22FF"]}, "legend": {"title": null, "orient": "none", "legendX": 411, "legendY": -3, "symbolSize": 2704, "labelFontSize": 22}}}},
   {"transform": [{"filter": {"field": "s", "equal": "MMt"}}], "mark": {"type": "line", "strokeWidth": 1.8},
    "encoding": {"color": {"field": "s", "type": "nominal", "scale": {"domain": ["MMt"], "range": ["#B5561B"]}, "legend": {"title": null, "orient": "none", "legendX": 431, "legendY": 118, "symbolSize": 2704, "labelFontSize": 22}}}},
   {"transform": [{"filter": {"field": "s", "equal": "Chito"}}], "mark": {"type": "line", "strokeWidth": 1.8},
    "encoding": {"color": {"field": "s", "type": "nominal", "scale": {"domain": ["Chito"], "range": ["#A020E8"]}, "legend": {"title": null, "orient": "none", "legendX": 416, "legendY": 239, "symbolSize": 2704, "labelFontSize": 22}}}},
   {"transform": [{"filter": {"field": "s", "equal": "Chito/HA-mMMt2"}}], "mark": {"type": "line", "strokeWidth": 1.8},
    "encoding": {"color": {"field": "s", "type": "nominal", "scale": {"domain": ["Chito/HA-mMMt2"], "range": ["#1A6B1A"]}, "legend": {"title": null, "orient": "none", "legendX": 298, "legendY": 348, "symbolSize": 2704, "labelFontSize": 22}}}},
   {"transform": [{"filter": {"field": "s", "equal": "Chito/HA-mMMt1"}}], "mark": {"type": "line", "strokeWidth": 1.8},
    "encoding": {"color": {"field": "s", "type": "nominal", "scale": {"domain": ["Chito/HA-mMMt1"], "range": ["#FF1010"]}, "legend": {"title": null, "orient": "none", "legendX": 292, "legendY": 473, "symbolSize": 2704, "labelFontSize": 22}}}},
   {"transform": [{"filter": {"field": "s", "equal": "Chito/HA"}}], "mark": {"type": "line", "strokeWidth": 1.8},
    "encoding": {"color": {"field": "s", "type": "nominal", "scale": {"domain": ["Chito/HA"], "range": ["#FF8A2A"]}, "legend": {"title": null, "orient": "none", "legendX": 379, "legendY": 593, "symbolSize": 2704, "labelFontSize": 22}}}}
  ],
  "resolve": {"scale": {"color": "independent"}, "legend": {"color": "independent"}}
 }
 ]
}
]
}
